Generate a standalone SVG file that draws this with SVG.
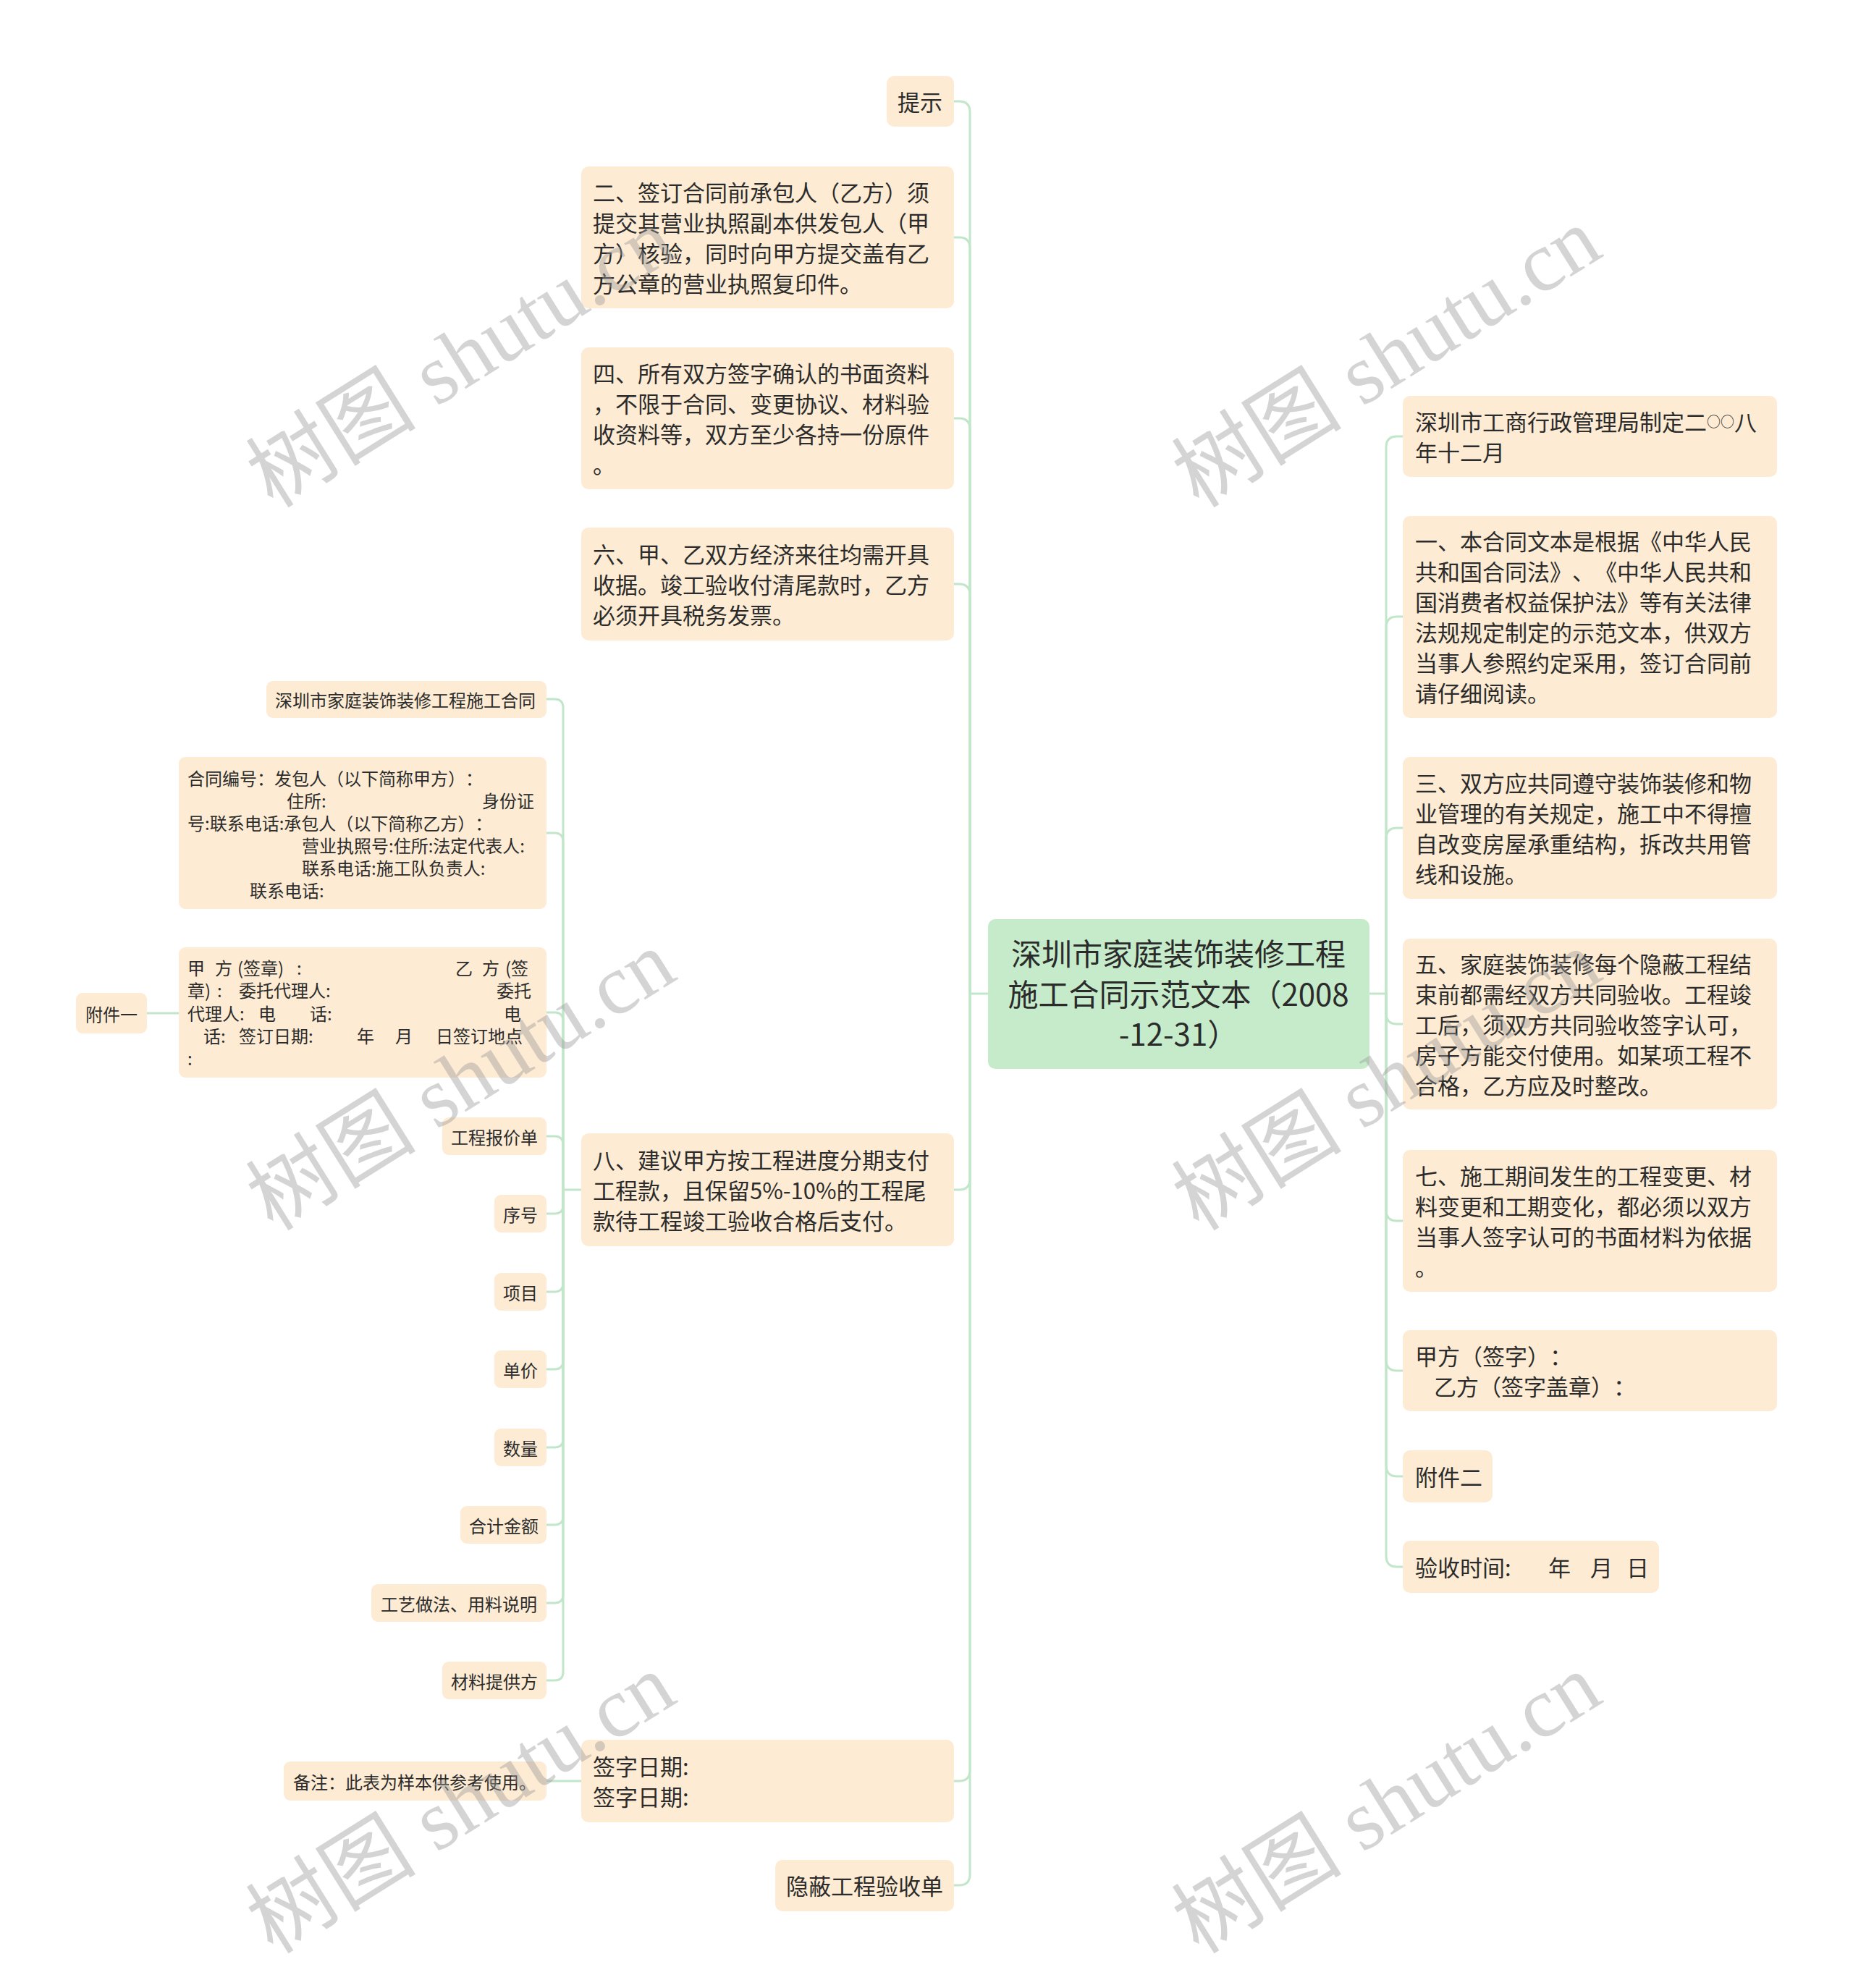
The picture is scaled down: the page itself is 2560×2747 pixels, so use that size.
<svg xmlns="http://www.w3.org/2000/svg" width="2560" height="2747" viewBox="0 0 2560 2747">
<style>
text{text-spacing-trim:space-all}
.bx{fill:#fdebd3}
.root{fill:#c6ebca}
.t{font-family:"Noto Sans CJK SC","Liberation Sans",sans-serif;font-size:31px;fill:#2b2b2b;dominant-baseline:central}
.s{font-family:"Noto Sans CJK SC","Liberation Sans",sans-serif;font-size:24px;fill:#2b2b2b;dominant-baseline:central}
.r{font-family:"Noto Sans CJK SC","Liberation Sans",sans-serif;font-size:42px;fill:#2b2b2b;dominant-baseline:central;text-anchor:middle}
.c{fill:none;stroke:#c2e6c9;stroke-width:3}
.wm{font-family:"Liberation Serif","Noto Sans CJK SC",serif;font-size:118px;fill:#9a9a9a;opacity:0.42;text-anchor:middle}
</style>
<rect width="2560" height="2747" fill="#ffffff"/>

<g id="connectors">
  <path class="c" d="M1365 1373 H1340"/>
  <path class="c" d="M1340 1373 V155 Q1340 140 1325 140 H1318"/>
  <path class="c" d="M1340 1373 V343 Q1340 328 1325 328 H1318"/>
  <path class="c" d="M1340 1373 V593 Q1340 578 1325 578 H1318"/>
  <path class="c" d="M1340 1373 V822 Q1340 807 1325 807 H1318"/>
  <path class="c" d="M1340 1373 V1629 Q1340 1644 1325 1644 H1318"/>
  <path class="c" d="M1340 1373 V2446 Q1340 2461 1325 2461 H1318"/>
  <path class="c" d="M1340 1373 V2590 Q1340 2605 1325 2605 H1318"/>
  <path class="c" d="M1892 1373 H1915"/>
  <path class="c" d="M1915 1373 V618 Q1915 603 1930 603 H1938"/>
  <path class="c" d="M1915 1373 V867 Q1915 852 1930 852 H1938"/>
  <path class="c" d="M1915 1373 V1159 Q1915 1144 1930 1144 H1938"/>
  <path class="c" d="M1915 1373 V1400 Q1915 1415 1930 1415 H1938"/>
  <path class="c" d="M1915 1373 V1672 Q1915 1687 1930 1687 H1938"/>
  <path class="c" d="M1915 1373 V1879 Q1915 1894 1930 1894 H1938"/>
  <path class="c" d="M1915 1373 V2025 Q1915 2040 1930 2040 H1938"/>
  <path class="c" d="M1915 1373 V2150 Q1915 2165 1930 2165 H1938"/>
  <path class="c" d="M803 1644 H778"/>
  <path class="c" d="M778 1644 V978 Q778 966 766 966 H755"/>
  <path class="c" d="M778 1644 V1163 Q778 1151 766 1151 H755"/>
  <path class="c" d="M778 1644 V1411 Q778 1399 766 1399 H755"/>
  <path class="c" d="M778 1644 V1582 Q778 1570 766 1570 H755"/>
  <path class="c" d="M778 1644 V1665 Q778 1677 766 1677 H755"/>
  <path class="c" d="M778 1644 V1773 Q778 1785 766 1785 H755"/>
  <path class="c" d="M778 1644 V1880 Q778 1892 766 1892 H755"/>
  <path class="c" d="M778 1644 V1988 Q778 2000 766 2000 H755"/>
  <path class="c" d="M778 1644 V2095 Q778 2107 766 2107 H755"/>
  <path class="c" d="M778 1644 V2203 Q778 2215 766 2215 H755"/>
  <path class="c" d="M778 1644 V2310 Q778 2322 766 2322 H755"/>
  <path class="c" d="M203 1400 H247"/>
  <path class="c" d="M755 2461 H803"/>
</g>

<g id="root">
  <rect class="root" x="1365" y="1270" width="527" height="207" rx="10"/>
  <text class="r" x="1628" y="1315">深圳市家庭装饰装修工程</text>
  <text class="r" x="1628" y="1371">施工合同示范文本（2008</text>
  <text class="r" x="1628" y="1426">-12-31）</text>
</g>

<g id="n-tishi">
  <rect class="bx" x="1225" y="105" width="93" height="70" rx="10"/>
  <text class="t" x="1240" y="139">提示</text>
</g>
<g id="n-er">
  <rect class="bx" x="803" y="230" width="515" height="196" rx="10"/>
  <text class="t" x="819" y="264">二、签订合同前承包人（乙方）须</text>
  <text class="t" x="819" y="306">提交其营业执照副本供发包人（甲</text>
  <text class="t" x="819" y="348">方）核验，同时向甲方提交盖有乙</text>
  <text class="t" x="819" y="390">方公章的营业执照复印件。</text>
</g>
<g id="n-si">
  <rect class="bx" x="803" y="480" width="515" height="196" rx="10"/>
  <text class="t" x="819" y="514">四、所有双方签字确认的书面资料</text>
  <text class="t" x="819" y="556">，不限于合同、变更协议、材料验</text>
  <text class="t" x="819" y="598">收资料等，双方至少各持一份原件</text>
  <text class="t" x="819" y="640">。</text>
</g>
<g id="n-liu">
  <rect class="bx" x="803" y="729" width="515" height="156" rx="10"/>
  <text class="t" x="819" y="764">六、甲、乙双方经济来往均需开具</text>
  <text class="t" x="819" y="806">收据。竣工验收付清尾款时，乙方</text>
  <text class="t" x="819" y="848">必须开具税务发票。</text>
</g>
<g id="n-ba">
  <rect class="bx" x="803" y="1566" width="515" height="156" rx="10"/>
  <text class="t" x="819" y="1601">八、建议甲方按工程进度分期支付</text>
  <text class="t" x="819" y="1643">工程款，且保留5%-10%的工程尾</text>
  <text class="t" x="819" y="1685">款待工程竣工验收合格后支付。</text>
</g>
<g id="n-qianzi">
  <rect class="bx" x="803" y="2404" width="515" height="114" rx="10"/>
  <text class="t" x="819" y="2439">签字日期:</text>
  <text class="t" x="819" y="2481">签字日期:</text>
</g>
<g id="n-yinbi">
  <rect class="bx" x="1071" y="2570" width="247" height="71" rx="10"/>
  <text class="t" x="1086" y="2604">隐蔽工程验收单</text>
</g>

<g id="s-hetong">
  <rect class="bx" x="368" y="941" width="387" height="51" rx="9"/>
  <text class="s" x="380" y="966">深圳市家庭装饰装修工程施工合同</text>
</g>
<g id="s-bianhao">
  <rect class="bx" x="247" y="1046" width="508" height="210" rx="9"/>
  <text class="s" x="259" y="1074">合同编号：发包人（以下简称甲方）：</text>
  <text class="s" x="396" y="1105">住所:</text>
  <text class="s" x="666" y="1105">身份证</text>
  <text class="s" x="259" y="1136">号:联系电话:承包人（以下简称乙方）：</text>
  <text class="s" x="417" y="1167">营业执照号:住所:法定代表人:</text>
  <text class="s" x="417" y="1198">联系电话:施工队负责人:</text>
  <text class="s" x="345" y="1229">联系电话:</text>
</g>
<g id="s-jiafang">
  <rect class="bx" x="247" y="1309" width="508" height="180" rx="9"/>
  <text class="s" y="1336"><tspan x="259">甲</tspan><tspan x="297">方</tspan><tspan x="328">(签章)</tspan><tspan x="410">:</tspan><tspan x="629">乙</tspan><tspan x="666">方</tspan><tspan x="698">(签</tspan></text>
  <text class="s" y="1367"><tspan x="259">章)</tspan><tspan x="300">:</tspan><tspan x="330">委托代理人:</tspan><tspan x="686">委托</tspan></text>
  <text class="s" y="1399"><tspan x="259">代理人:</tspan><tspan x="357">电</tspan><tspan x="428">话:</tspan><tspan x="696">电</tspan></text>
  <text class="s" y="1430"><tspan x="281">话:</tspan><tspan x="330">签订日期:</tspan><tspan x="493">年</tspan><tspan x="546">月</tspan><tspan x="602">日签订地点</tspan></text>
  <text class="s" x="259" y="1461">:</text>
</g>
<g id="s-fujian1">
  <rect class="bx" x="105" y="1372" width="98" height="56" rx="9"/>
  <text class="s" x="118" y="1400">附件一</text>
</g>
<g id="s-baojia">
  <rect class="bx" x="611" y="1544" width="144" height="52" rx="9"/>
  <text class="s" x="623" y="1570">工程报价单</text>
</g>
<g id="s-xuhao">
  <rect class="bx" x="683" y="1651" width="72" height="52" rx="9"/>
  <text class="s" x="695" y="1677">序号</text>
</g>
<g id="s-xiangmu">
  <rect class="bx" x="683" y="1759" width="72" height="52" rx="9"/>
  <text class="s" x="695" y="1785">项目</text>
</g>
<g id="s-danjia">
  <rect class="bx" x="683" y="1866" width="72" height="52" rx="9"/>
  <text class="s" x="695" y="1892">单价</text>
</g>
<g id="s-shuliang">
  <rect class="bx" x="683" y="1974" width="72" height="52" rx="9"/>
  <text class="s" x="695" y="2000">数量</text>
</g>
<g id="s-heji">
  <rect class="bx" x="636" y="2081" width="119" height="52" rx="9"/>
  <text class="s" x="648" y="2107">合计金额</text>
</g>
<g id="s-gongyi">
  <rect class="bx" x="513" y="2189" width="242" height="52" rx="9"/>
  <text class="s" x="526" y="2215">工艺做法、用料说明</text>
</g>
<g id="s-cailiao">
  <rect class="bx" x="611" y="2296" width="144" height="52" rx="9"/>
  <text class="s" x="623" y="2322">材料提供方</text>
</g>
<g id="s-beizhu">
  <rect class="bx" x="392" y="2434" width="363" height="54" rx="9"/>
  <text class="s" x="405" y="2461">备注：此表为样本供参考使用。</text>
</g>

<g id="r-zhiding">
  <rect class="bx" x="1938" y="547" width="517" height="112" rx="10"/>
  <text class="t" x="1955" y="581">深圳市工商行政管理局制定二<tspan font-size="19px">○○</tspan>八</text>
  <text class="t" x="1955" y="623">年十二月</text>
</g>
<g id="r-yi">
  <rect class="bx" x="1938" y="713" width="517" height="279" rx="10"/>
  <text class="t" x="1955" y="746">一、本合同文本是根据《中华人民</text>
  <text class="t" x="1955" y="788">共和国合同法》、《中华人民共和</text>
  <text class="t" x="1955" y="830">国消费者权益保护法》等有关法律</text>
  <text class="t" x="1955" y="872">法规规定制定的示范文本，供双方</text>
  <text class="t" x="1955" y="914">当事人参照约定采用，签订合同前</text>
  <text class="t" x="1955" y="956">请仔细阅读。</text>
</g>
<g id="r-san">
  <rect class="bx" x="1938" y="1046" width="517" height="196" rx="10"/>
  <text class="t" x="1955" y="1080">三、双方应共同遵守装饰装修和物</text>
  <text class="t" x="1955" y="1122">业管理的有关规定，施工中不得擅</text>
  <text class="t" x="1955" y="1164">自改变房屋承重结构，拆改共用管</text>
  <text class="t" x="1955" y="1206">线和设施。</text>
</g>
<g id="r-wu">
  <rect class="bx" x="1938" y="1297" width="517" height="236" rx="10"/>
  <text class="t" x="1955" y="1330">五、家庭装饰装修每个隐蔽工程结</text>
  <text class="t" x="1955" y="1372">束前都需经双方共同验收。工程竣</text>
  <text class="t" x="1955" y="1414">工后，须双方共同验收签字认可，</text>
  <text class="t" x="1955" y="1456">房子方能交付使用。如某项工程不</text>
  <text class="t" x="1955" y="1498">合格，乙方应及时整改。</text>
</g>
<g id="r-qi">
  <rect class="bx" x="1938" y="1589" width="517" height="196" rx="10"/>
  <text class="t" x="1955" y="1623">七、施工期间发生的工程变更、材</text>
  <text class="t" x="1955" y="1665">料变更和工期变化，都必须以双方</text>
  <text class="t" x="1955" y="1707">当事人签字认可的书面材料为依据</text>
  <text class="t" x="1955" y="1749">。</text>
</g>
<g id="r-jiafang">
  <rect class="bx" x="1938" y="1838" width="517" height="112" rx="10"/>
  <text class="t" x="1955" y="1872">甲方（签字）：</text>
  <text class="t" x="1981" y="1914">乙方（签字盖章）：</text>
</g>
<g id="r-fujian2">
  <rect class="bx" x="1938" y="2004" width="124" height="72" rx="10"/>
  <text class="t" x="1955" y="2039">附件二</text>
</g>
<g id="r-yanshou">
  <rect class="bx" x="1938" y="2129" width="354" height="72" rx="10"/>
  <text class="t" y="2164"><tspan x="1955">验收时间:</tspan><tspan x="2139">年</tspan><tspan x="2197">月</tspan><tspan x="2247">日</tspan></text>
</g>

<g id="watermarks">
  <text class="wm" transform="translate(658 528) rotate(-32)">树图 shutu.cn</text>
  <text class="wm" transform="translate(1937 528) rotate(-32)">树图 shutu.cn</text>
  <text class="wm" transform="translate(658 1527) rotate(-32)">树图 shutu.cn</text>
  <text class="wm" transform="translate(1937 1527) rotate(-32)">树图 shutu.cn</text>
  <text class="wm" transform="translate(658 2526) rotate(-32)">树图 shutu.cn</text>
  <text class="wm" transform="translate(1937 2526) rotate(-32)">树图 shutu.cn</text>
</g>
</svg>
